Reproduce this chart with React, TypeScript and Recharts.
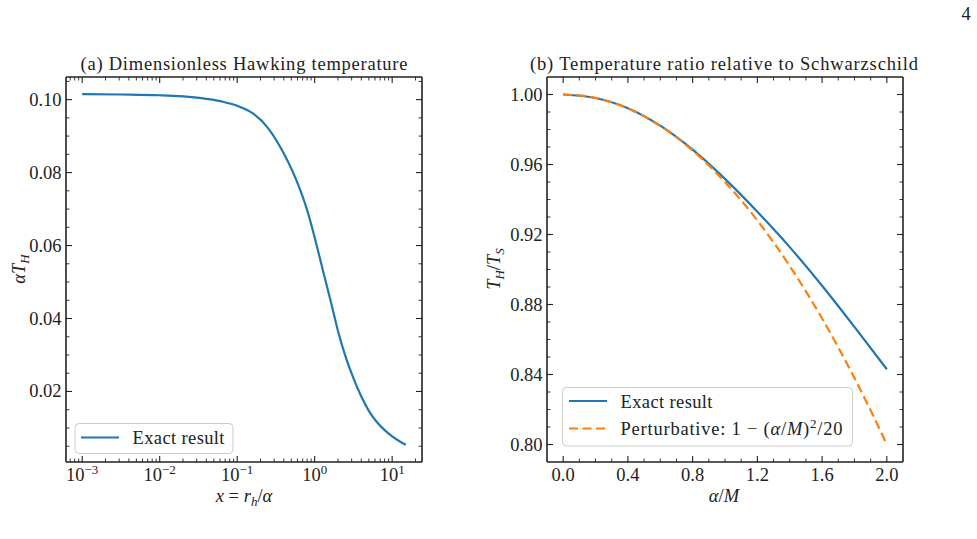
import type { ReactNode } from "react"
import { LineChart, Line, XAxis, YAxis } from "recharts"

const FONT = "'Liberation Serif', 'DejaVu Serif', serif"
const INK = "#222"
const BLUE = "#1f77b4"
const ORANGE = "#ff7f0e"

// (a) dimensionless Hawking temperature against x = r_h/α
const hawkingX = [
  0.001, 0.0032, 0.01, 0.032, 0.063, 0.1, 0.16, 0.25, 0.4, 0.63, 0.8, 1.0,
  1.26, 1.6, 2.0, 2.5, 3.2, 4.0, 5.0, 6.3, 8.0, 10, 12.6, 15,
]
const hawkingT = [
  0.1015, 0.1014, 0.1012, 0.1005, 0.0995, 0.0983, 0.0962, 0.0922, 0.0852,
  0.076, 0.0697, 0.0622, 0.0537, 0.045, 0.0366, 0.0296, 0.0234, 0.0186,
  0.0147, 0.0117, 0.0094, 0.0077, 0.0063, 0.0054,
]

// (b) T_H/T_S against α/M
const exactA = [0, 0.2, 0.4, 0.6, 0.8, 1.0, 1.2, 1.4, 1.6, 1.8, 2.0]
const exactRatio = [
  1.0, 0.998, 0.9922, 0.9822, 0.9685, 0.9518, 0.933, 0.9128, 0.8907, 0.8672,
  0.843,
]
const pertA = [
  0, 0.1, 0.2, 0.3, 0.4, 0.5, 0.6, 0.7, 0.8, 0.9, 1.0, 1.1, 1.2, 1.3, 1.4,
  1.5, 1.6, 1.7, 1.8, 1.9, 2.0,
]
const pertRatio = [
  1.0, 0.9995, 0.998, 0.9955, 0.992, 0.9875, 0.982, 0.9755, 0.968, 0.9595,
  0.95, 0.9395, 0.928, 0.9155, 0.902, 0.8875, 0.872, 0.8555, 0.838, 0.8195,
  0.8,
]

// tick positions
const logMajor = [0.001, 0.01, 0.1, 1, 10]
const logMinor = [
  0.0007, 0.0008, 0.0009, 0.002, 0.003, 0.004, 0.005, 0.006, 0.007, 0.008,
  0.009, 0.02, 0.03, 0.04, 0.05, 0.06, 0.07, 0.08, 0.09, 0.2, 0.3, 0.4, 0.5,
  0.6, 0.7, 0.8, 0.9, 2, 3, 4, 5, 6, 7, 8, 9, 20,
]
const tempMajor = [0.02, 0.04, 0.06, 0.08, 0.1]
const tempMinor = [
  0.005, 0.01, 0.015, 0.025, 0.03, 0.035, 0.045, 0.05, 0.055, 0.065, 0.07,
  0.075, 0.085, 0.09, 0.095, 0.105,
]
const alphaMajor = [0, 0.4, 0.8, 1.2, 1.6, 2.0]
const alphaMinor = [
  0.1, 0.2, 0.3, 0.5, 0.6, 0.7, 0.9, 1.0, 1.1, 1.3, 1.4, 1.5, 1.7, 1.8, 1.9,
]
const ratioMajor = [0.8, 0.84, 0.88, 0.92, 0.96, 1.0]
const ratioMinor = [
  0.81, 0.82, 0.83, 0.85, 0.86, 0.87, 0.89, 0.9, 0.91, 0.93, 0.94, 0.95, 0.97,
  0.98, 0.99,
]

const hawkingData = hawkingX.map((x, i) => ({ x, y: hawkingT[i] }))
const exactData = exactA.map((x, i) => ({ x, y: exactRatio[i] }))
const pertData = pertA.map((x, i) => ({ x, y: pertRatio[i] }))

const exactName = "Exact result"

type Side = "bottom" | "top" | "left" | "right"

// inward ticks on all four spines, labels only on bottom/left majors
function makeTick(side: Side, major: number[], label?: (v: number) => ReactNode) {
  return (p: any) => {
    const { x, y } = p
    const v = p.payload.value
    const isMajor = major.includes(v)
    const len = isMajor ? 6 : 3.5
    const dx = side === "left" ? len : side === "right" ? -len : 0
    const dy = side === "bottom" ? -len : side === "top" ? len : 0
    return (
      <g>
        <line
          x1={x}
          y1={y}
          x2={x + dx}
          y2={y + dy}
          stroke={INK}
          strokeWidth={isMajor ? 1.1 : 0.9}
        />
        {isMajor && label && side === "bottom" && (
          <text x={x} y={y + 19} textAnchor="middle" fontFamily={FONT} fontSize={18.5} fill={INK}>
            {label(v)}
          </text>
        )}
        {isMajor && label && side === "left" && (
          <text x={x - 4.5} y={y + 6} textAnchor="end" fontFamily={FONT} fontSize={18.5} fill={INK}>
            {label(v)}
          </text>
        )}
      </g>
    )
  }
}

const logLabel = (v: number) => {
  const e = Math.round(Math.log10(v))
  return (
    <>
      <tspan>10</tspan>
      <tspan dy={-7} fontSize={13}>
        {e < 0 ? `−${-e}` : `${e}`}
      </tspan>
    </>
  )
}

const spine = { stroke: INK, strokeWidth: 1.6 }

const axisCommon = {
  type: "number" as const,
  allowDataOverflow: true,
  interval: 0 as const,
  tickSize: 0,
  tickMargin: 0,
  tickLine: false,
  axisLine: spine,
}

function HawkingPanel() {
  const xDomain = [0.000618, 24.27]
  const yDomain = [0.00067, 0.1062]
  const xTicks = [...logMajor, ...logMinor]
  const yTicks = [...tempMajor, ...tempMinor]
  return (
    <LineChart width={440} height={539} margin={{ top: 76, right: 17, bottom: 76, left: 16 }}>
      <XAxis {...axisCommon} xAxisId="b" dataKey="x" scale="log" domain={xDomain} ticks={xTicks} height={1}
        tick={makeTick("bottom", logMajor, logLabel)} />
      <XAxis {...axisCommon} xAxisId="t" orientation="top" dataKey="x" scale="log" domain={xDomain} ticks={xTicks} height={1}
        tick={makeTick("top", logMajor)} />
      <YAxis {...axisCommon} yAxisId="l" domain={yDomain} ticks={yTicks} width={50}
        tick={makeTick("left", tempMajor, (v) => v.toFixed(2))} />
      <YAxis {...axisCommon} yAxisId="r" orientation="right" domain={yDomain} ticks={yTicks} width={1}
        tick={makeTick("right", tempMajor)} />
      <Line xAxisId="b" yAxisId="l" data={hawkingData} dataKey="y" type="monotone" stroke={BLUE}
        strokeWidth={2.2} dot={false} isAnimationActive={false} />
    </LineChart>
  )
}

function RatioPanel() {
  const xDomain = [-0.1, 2.1]
  const yDomain = [0.79, 1.01]
  const xTicks = [...alphaMajor, ...alphaMinor]
  const yTicks = [...ratioMajor, ...ratioMinor]
  return (
    <LineChart width={507} height={539} margin={{ top: 76, right: 73, bottom: 76, left: 27 }}>
      <XAxis {...axisCommon} xAxisId="b" dataKey="x" domain={xDomain} ticks={xTicks} height={1}
        tick={makeTick("bottom", alphaMajor, (v) => v.toFixed(1))} />
      <XAxis {...axisCommon} xAxisId="t" orientation="top" dataKey="x" domain={xDomain} ticks={xTicks} height={1}
        tick={makeTick("top", alphaMajor)} />
      <YAxis {...axisCommon} yAxisId="l" domain={yDomain} ticks={yTicks} width={50}
        tick={makeTick("left", ratioMajor, (v) => v.toFixed(2))} />
      <YAxis {...axisCommon} yAxisId="r" orientation="right" domain={yDomain} ticks={yTicks} width={1}
        tick={makeTick("right", ratioMajor)} />
      <Line xAxisId="b" yAxisId="l" data={exactData} dataKey="y" type="monotone" stroke={BLUE}
        strokeWidth={2.2} dot={false} isAnimationActive={false} />
      <Line xAxisId="b" yAxisId="l" data={pertData} dataKey="y" type="monotone" stroke={ORANGE}
        strokeWidth={2.2} strokeDasharray="9 4.5" dot={false} isAnimationActive={false} />
    </LineChart>
  )
}

const it = { fontStyle: "italic" as const }

function Annotations() {
  return (
    <svg width={977} height={539} style={{ position: "absolute", left: 0, top: 0 }}
      fontFamily={FONT} fontSize={18.5} fill={INK}>
      <text x={966} y={20} textAnchor="middle">4</text>

      <text x={244} y={70} textAnchor="middle" textLength={327} lengthAdjust="spacing">
        (a) Dimensionless Hawking temperature
      </text>
      <text x={724} y={70} textAnchor="middle" textLength={388} lengthAdjust="spacing">
        (b) Temperature ratio relative to Schwarzschild
      </text>

      <text x={244} y={502} textAnchor="middle">
        <tspan {...it}>x</tspan> = <tspan {...it}>r</tspan>
        <tspan {...it} dy={4} fontSize={13}>h</tspan>
        <tspan dy={-4}>/</tspan>
        <tspan {...it}>α</tspan>
      </text>
      <text x={724} y={502} textAnchor="middle">
        <tspan {...it}>α</tspan>/<tspan {...it}>M</tspan>
      </text>

      <text x={25} y={269} textAnchor="middle" transform="rotate(-90 25 269)">
        <tspan {...it}>αT</tspan>
        <tspan {...it} dy={4} fontSize={13}>H</tspan>
      </text>
      <text x={500} y={269} textAnchor="middle" transform="rotate(-90 500 269)">
        <tspan {...it}>T</tspan>
        <tspan {...it} dy={4} fontSize={13}>H</tspan>
        <tspan dy={-4}>/</tspan>
        <tspan {...it}>T</tspan>
        <tspan {...it} dy={4} fontSize={13}>S</tspan>
      </text>

      {/* legend of panel (a) */}
      <rect x={75} y={423.5} width={158} height={30} rx={4} fill="#fff" fillOpacity={0.8}
        stroke="#cccccc" strokeWidth={1} />
      <line x1={81} y1={437.5} x2={119} y2={437.5} stroke={BLUE} strokeWidth={2.2} />
      <text x={132.5} y={443.5} textLength={92} lengthAdjust="spacing">{exactName}</text>

      {/* legend of panel (b) */}
      <rect x={562.5} y={387.5} width={290} height={58.5} rx={4} fill="#fff" fillOpacity={0.8}
        stroke="#cccccc" strokeWidth={1} />
      <line x1={569} y1={401} x2={607} y2={401} stroke={BLUE} strokeWidth={2.2} />
      <text x={620.5} y={408} textLength={92} lengthAdjust="spacing">{exactName}</text>
      <line x1={569} y1={428.5} x2={607} y2={428.5} stroke={ORANGE} strokeWidth={2.2}
        strokeDasharray="9 4.5" />
      <text x={620.5} y={435} textLength={222} lengthAdjust="spacing">
        Perturbative: 1 − (<tspan {...it}>α</tspan>/<tspan {...it}>M</tspan>)
        <tspan dy={-7} fontSize={13}>2</tspan>
        <tspan dy={7}>/20</tspan>
      </text>
    </svg>
  )
}

export default function App() {
  return (
    <div style={{ position: "absolute", left: 0, top: 0, width: 977, height: 539, background: "#fff" }}>
      <div style={{ position: "absolute", left: 0, top: 0 }}>
        <HawkingPanel />
      </div>
      <div style={{ position: "absolute", left: 470, top: 0 }}>
        <RatioPanel />
      </div>
      <Annotations />
    </div>
  )
}
